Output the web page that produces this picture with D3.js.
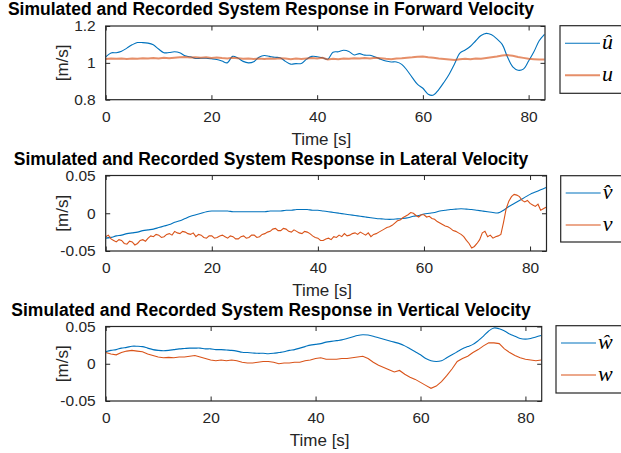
<!DOCTYPE html>
<html>
<head>
<meta charset="utf-8">
<script src="https://cdn.jsdelivr.net/npm/d3@7"></script>
<style>
  body { margin: 0; background: #fff; }
  svg { display: block; }
  .tick text { font-family: "Liberation Sans", Arial, sans-serif; font-size: 15.5px; fill: #262626; }
  .tick line { stroke: #262626; }
  .domain { display: none; }
</style>
</head>
<body>
<svg id="graph-svg"></svg>
<script>
// sample times [s] of the 1 s series
const time = [0, 1, 2, 3, 4, 5, 6, 7, 8, 9, 10, 11, 12, 13, 14, 15, 16, 17, 18, 19,
  20, 21, 22, 23, 24, 25, 26, 27, 28, 29, 30, 31, 32, 33, 34, 35, 36, 37, 38, 39,
  40, 41, 42, 43, 44, 45, 46, 47, 48, 49, 50, 51, 52, 53, 54, 55, 56, 57, 58, 59,
  60, 61, 62, 63, 64, 65, 66, 67, 68, 69, 70, 71, 72, 73, 74, 75, 76, 77, 78, 79,
  80, 81, 82, 83];
// the recorded lateral velocity is sampled every 0.5 s
const timeHalf = d3.range(0, 83.25, 0.5);

// forward velocity: simulated (u hat) and recorded (u)
const uHat = [1.032, 1.054, 1.055, 1.063, 1.08, 1.098, 1.11, 1.11, 1.107, 1.098,
  1.075, 1.055, 1.056, 1.06, 1.055, 1.038, 1.033, 1.024, 1.025, 1.025,
  1.022, 1.018, 1.01, 1.0, 1.035, 1.026, 1.008, 1.0, 1.006, 1.03,
  1.04, 1.035, 1.03, 1.028, 1.008, 0.993, 0.996, 0.996, 1.02, 1.035,
  1.033, 1.028, 1.02, 1.058, 1.06, 1.068, 1.062, 1.043, 1.05, 1.042,
  1.041, 1.032, 1.02, 1.01, 1.005, 1.005, 0.992, 0.96, 0.92, 0.883,
  0.862, 0.83, 0.825, 0.855, 0.895, 0.94, 0.995, 1.053, 1.07, 1.09,
  1.12, 1.148, 1.16, 1.152, 1.13, 1.1, 1.032, 0.978, 0.96, 0.966,
  1.01, 1.06, 1.12, 1.155];
const uRec = [1.021, 1.024, 1.022, 1.023, 1.021, 1.024, 1.022, 1.025, 1.023, 1.026,
  1.024, 1.027, 1.025, 1.028, 1.03, 1.032, 1.029, 1.031, 1.028, 1.03,
  1.027, 1.029, 1.026, 1.024, 1.027, 1.025, 1.022, 1.024, 1.021, 1.023,
  1.021, 1.024, 1.022, 1.025, 1.023, 1.02, 1.023, 1.021, 1.024, 1.026,
  1.024, 1.027, 1.018, 1.022, 1.02, 1.024, 1.022, 1.025, 1.023, 1.026,
  1.024, 1.027, 1.025, 1.022, 1.02, 1.023, 1.025, 1.028, 1.03, 1.033,
  1.035, 1.031, 1.028, 1.024, 1.021, 1.018, 1.015, 1.019, 1.022, 1.02,
  1.024, 1.022, 1.026, 1.03, 1.034, 1.04, 1.042, 1.038, 1.032, 1.027,
  1.022, 1.02, 1.018, 1.018];

// lateral velocity: simulated (v hat, 1 s) and recorded (v, 0.5 s)
const vHat = [-0.033, -0.032, -0.030, -0.029, -0.027, -0.026, -0.025, -0.023, -0.022, -0.021,
  -0.019, -0.017, -0.015, -0.012, -0.010, -0.007, -0.004, -0.002, 0.0, 0.002,
  0.003, 0.003, 0.003, 0.003, 0.002, 0.002, 0.002, 0.002, 0.002, 0.002,
  0.002, 0.003, 0.003, 0.003, 0.004, 0.004, 0.005, 0.005, 0.005, 0.004,
  0.004, 0.003, 0.002, 0.001, 0.0, -0.001, -0.002, -0.003, -0.004, -0.005,
  -0.006, -0.007, -0.0075, -0.008, -0.008, -0.0075, -0.007, -0.006, -0.004, -0.003,
  -0.001, 0.0, 0.001, 0.003, 0.004, 0.005, 0.0055, 0.006, 0.0055, 0.005,
  0.004, 0.003, 0.002, 0.001, 0.0005, 0.004, 0.009, 0.013, 0.017, 0.021,
  0.025, 0.028, 0.031, 0.034];
const vRec = [-0.031, -0.029, -0.034, -0.036, -0.038, -0.035, -0.036, -0.040, -0.041, -0.037,
  -0.038, -0.042, -0.040, -0.036, -0.035, -0.037, -0.033, -0.030, -0.031, -0.028,
  -0.029, -0.032, -0.031, -0.028, -0.027, -0.029, -0.024, -0.026, -0.027, -0.024,
  -0.025, -0.027, -0.028, -0.026, -0.031, -0.028, -0.029, -0.032, -0.033, -0.030,
  -0.030, -0.033, -0.032, -0.030, -0.029, -0.031, -0.033, -0.030, -0.031, -0.034,
  -0.034, -0.031, -0.030, -0.033, -0.032, -0.029, -0.029, -0.032, -0.031, -0.028,
  -0.027, -0.025, -0.024, -0.021, -0.020, -0.023, -0.023, -0.020, -0.021, -0.024,
  -0.025, -0.022, -0.024, -0.026, -0.027, -0.024, -0.025, -0.027, -0.030, -0.032,
  -0.033, -0.036, -0.036, -0.034, -0.033, -0.035, -0.031, -0.032, -0.029, -0.031,
  -0.027, -0.030, -0.029, -0.027, -0.026, -0.028, -0.025, -0.027, -0.029, -0.026,
  -0.031, -0.028, -0.027, -0.025, -0.023, -0.021, -0.019, -0.018, -0.016, -0.013,
  -0.010, -0.009, -0.006, -0.004, -0.002, 0.001, 0.0, -0.003, -0.005, -0.002,
  -0.002, -0.005, -0.004, -0.007, -0.008, -0.011, -0.013, -0.015, -0.017, -0.018,
  -0.020, -0.023, -0.024, -0.026, -0.028, -0.031, -0.036, -0.040, -0.046, -0.044,
  -0.040, -0.035, -0.026, -0.024, -0.031, -0.029, -0.033, -0.031, -0.030, -0.028,
  -0.012, 0.006, 0.016, 0.022, 0.025, 0.024, 0.022, 0.017, 0.015, 0.017,
  0.013, 0.011, 0.009, 0.012, 0.004, 0.006, 0.008];

// vertical velocity: simulated (w hat) and recorded (w)
const wHat = [0.016, 0.018, 0.019, 0.021, 0.022, 0.0235, 0.0235, 0.023, 0.021, 0.019,
  0.018, 0.0175, 0.018, 0.019, 0.020, 0.0205, 0.021, 0.021, 0.021, 0.020,
  0.020, 0.019, 0.019, 0.0185, 0.018, 0.017, 0.0155, 0.015, 0.0145, 0.014,
  0.014, 0.0135, 0.014, 0.015, 0.016, 0.018, 0.019, 0.021, 0.023, 0.025,
  0.026, 0.027, 0.029, 0.030, 0.031, 0.032, 0.034, 0.036, 0.038, 0.039,
  0.0385, 0.037, 0.035, 0.033, 0.031, 0.029, 0.027, 0.024, 0.020, 0.016,
  0.012, 0.007, 0.004, 0.003, 0.004, 0.008, 0.012, 0.016, 0.020, 0.023,
  0.026, 0.031, 0.037, 0.044, 0.048, 0.047, 0.044, 0.040, 0.037, 0.034,
  0.033, 0.034, 0.036, 0.038];
const wRec = [0.015, 0.013, 0.012, 0.015, 0.017, 0.018, 0.017, 0.016, 0.013, 0.011,
  0.009, 0.008, 0.0085, 0.008, 0.009, 0.009, 0.010, 0.011, 0.009, 0.007,
  0.005, 0.004, 0.005, 0.004, 0.005, 0.004, 0.002, 0.001, 0.001, 0.002,
  0.003, 0.003, 0.002, 0.0, 0.001, 0.001, 0.002, 0.002, 0.004, 0.005,
  0.007, 0.008, 0.006, 0.006, 0.006, 0.007, 0.007, 0.008, 0.009, 0.010,
  0.007, 0.002, -0.002, -0.005, -0.008, -0.011, -0.009, -0.014, -0.018, -0.021,
  -0.025, -0.029, -0.033, -0.030, -0.024, -0.016, -0.007, 0.003, 0.007, 0.010,
  0.015, 0.019, 0.024, 0.028, 0.028, 0.027, 0.020, 0.015, 0.011, 0.008,
  0.006, 0.005, 0.004, 0.005];

// ticks and labels
const xTicks = [0, 20, 40, 60, 80];
const uTicks = [0.8, 1, 1.2];
const uTickLabels = ["0.8", "1", "1.2"];
const velTicks = [-0.05, 0, 0.05];
const velTickLabels = ["-0.05", "0", "0.05"];
const titles = [
  "Simulated and Recorded System Response in Forward Velocity",
  "Simulated and Recorded System Response in Lateral Velocity",
  "Simulated and Recorded System Response in Vertical Velocity"
];
const legendNames = [["u\u0302", "u"], ["v\u0302", "v"], ["w\u0302", "w"]];

const blue = "#0072BD", orange = "#D95319";
const font = '"Liberation Sans", Arial, sans-serif';

const svg = d3.select("#graph-svg")
  .attr("width", 621)
  .attr("height", 453);

function drawPanel(i, box, yDomain, yTicks, yLabels, sim, rec, recTime, recStyle, legendBox) {
  const x = d3.scaleLinear().domain([0, 83.1]).range([box.left, box.right]);
  const y = d3.scaleLinear().domain(yDomain).range([box.bottom, box.top]);
  const g = svg.append("g");

  // clip so lines stay inside the axes
  g.append("clipPath").attr("id", "clip" + i)
    .append("rect")
    .attr("x", box.left).attr("y", box.top)
    .attr("width", box.right - box.left).attr("height", box.bottom - box.top);

  // axes, MATLAB style: ticks pointing inwards on all four sides
  g.append("g")
    .attr("transform", "translate(0," + box.bottom + ")")
    .call(d3.axisBottom(x).tickValues(xTicks).tickSizeInner(-4.5).tickSizeOuter(0).tickPadding(11));
  g.append("g")
    .attr("transform", "translate(0," + box.top + ")")
    .call(d3.axisTop(x).tickValues(xTicks).tickSizeInner(-4.5).tickSizeOuter(0).tickFormat(""));
  g.append("g")
    .attr("transform", "translate(" + box.left + ",0)")
    .call(d3.axisLeft(y).tickValues(yTicks).tickSizeInner(-4.5).tickSizeOuter(0).tickPadding(10)
      .tickFormat(function (d, j) { return yLabels[j]; }));
  g.append("g")
    .attr("transform", "translate(" + box.right + ",0)")
    .call(d3.axisRight(y).tickValues(yTicks).tickSizeInner(-4.5).tickSizeOuter(0).tickFormat(""));

  function line(times, curve) {
    return d3.line()
      .x(function (d, j) { return x(times[j]); })
      .y(function (d) { return y(d); })
      .curve(curve);
  }

  g.append("path")
    .datum(sim)
    .attr("clip-path", "url(#clip" + i + ")")
    .attr("fill", "none")
    .attr("stroke", blue)
    .attr("stroke-width", 1.1)
    .attr("d", line(time, d3.curveCatmullRom));

  g.append("path")
    .datum(rec)
    .attr("clip-path", "url(#clip" + i + ")")
    .attr("fill", "none")
    .attr("stroke", orange)
    .attr("stroke-width", recStyle.width)
    .attr("stroke-opacity", recStyle.opacity)
    .attr("d", line(recTime, d3.curveLinear));

  // axes box
  g.append("rect")
    .attr("x", box.left).attr("y", box.top)
    .attr("width", box.right - box.left).attr("height", box.bottom - box.top)
    .attr("fill", "none")
    .attr("stroke", "#262626")
    .attr("stroke-width", 1.2);

  // title and axis labels
  g.append("text")
    .attr("x", 271).attr("y", box.top - 11)
    .attr("text-anchor", "middle")
    .style("font-family", font).style("font-weight", "bold").style("font-size", "17.5px")
    .attr("fill", "#000")
    .text(titles[i]);

  g.append("text")
    .attr("x", (box.left + box.right) / 2 - 4).attr("y", box.bottom + 45)
    .attr("text-anchor", "middle")
    .style("font-family", font).style("font-size", "17px")
    .attr("fill", "#262626")
    .text("Time [s]");

  g.append("text")
    .attr("transform", "translate(68," + (box.top + box.bottom) / 2 + ") rotate(-90)")
    .attr("text-anchor", "middle")
    .style("font-family", font).style("font-size", "17px")
    .attr("fill", "#262626")
    .text("[m/s]");

  // legend
  const lg = g.append("g");
  lg.append("rect")
    .attr("x", legendBox.x).attr("y", legendBox.top)
    .attr("width", 80).attr("height", legendBox.bottom - legendBox.top)
    .attr("fill", "#fff")
    .attr("stroke", "#262626")
    .attr("stroke-width", 1.2);
  const rows = [
    { name: legendNames[i][0], color: blue, width: 1.1, opacity: 1 },
    { name: legendNames[i][1], color: orange, width: recStyle.width, opacity: recStyle.opacity }
  ];
  rows.forEach(function (r, j) {
    const ly = legendBox.rows[j];
    lg.append("line")
      .attr("x1", legendBox.x + 5).attr("x2", legendBox.x + 40)
      .attr("y1", ly).attr("y2", ly)
      .attr("stroke", r.color)
      .attr("stroke-width", r.width)
      .attr("stroke-opacity", r.opacity);
    lg.append("text")
      .attr("x", legendBox.x + 42).attr("y", ly + 6)
      .style("font-family", '"Liberation Serif", "Times New Roman", serif')
      .style("font-style", "italic")
      .style("font-size", "22px")
      .attr("fill", "#000")
      .text(r.name);
  });
}

drawPanel(0, { left: 105.7, right: 545, top: 26, bottom: 99.7 }, [0.8, 1.2], uTicks, uTickLabels,
  uHat, uRec, time, { width: 2, opacity: 0.65 },
  { x: 560, top: 25.7, bottom: 93.3, rows: [43.3, 75.3] });
drawPanel(1, { left: 105.7, right: 546.5, top: 175.5, bottom: 251 }, [-0.05, 0.05], velTicks, velTickLabels,
  vHat, vRec, timeHalf, { width: 1.1, opacity: 1 },
  { x: 560.7, top: 175.7, bottom: 242, rows: [193, 225] });
drawPanel(2, { left: 105.7, right: 541.7, top: 326.5, bottom: 401 }, [-0.05, 0.05], velTicks, velTickLabels,
  wHat, wRec, time, { width: 1.1, opacity: 1 },
  { x: 556, top: 325.7, bottom: 393, rows: [343, 375] });
</script>
</body>
</html>
